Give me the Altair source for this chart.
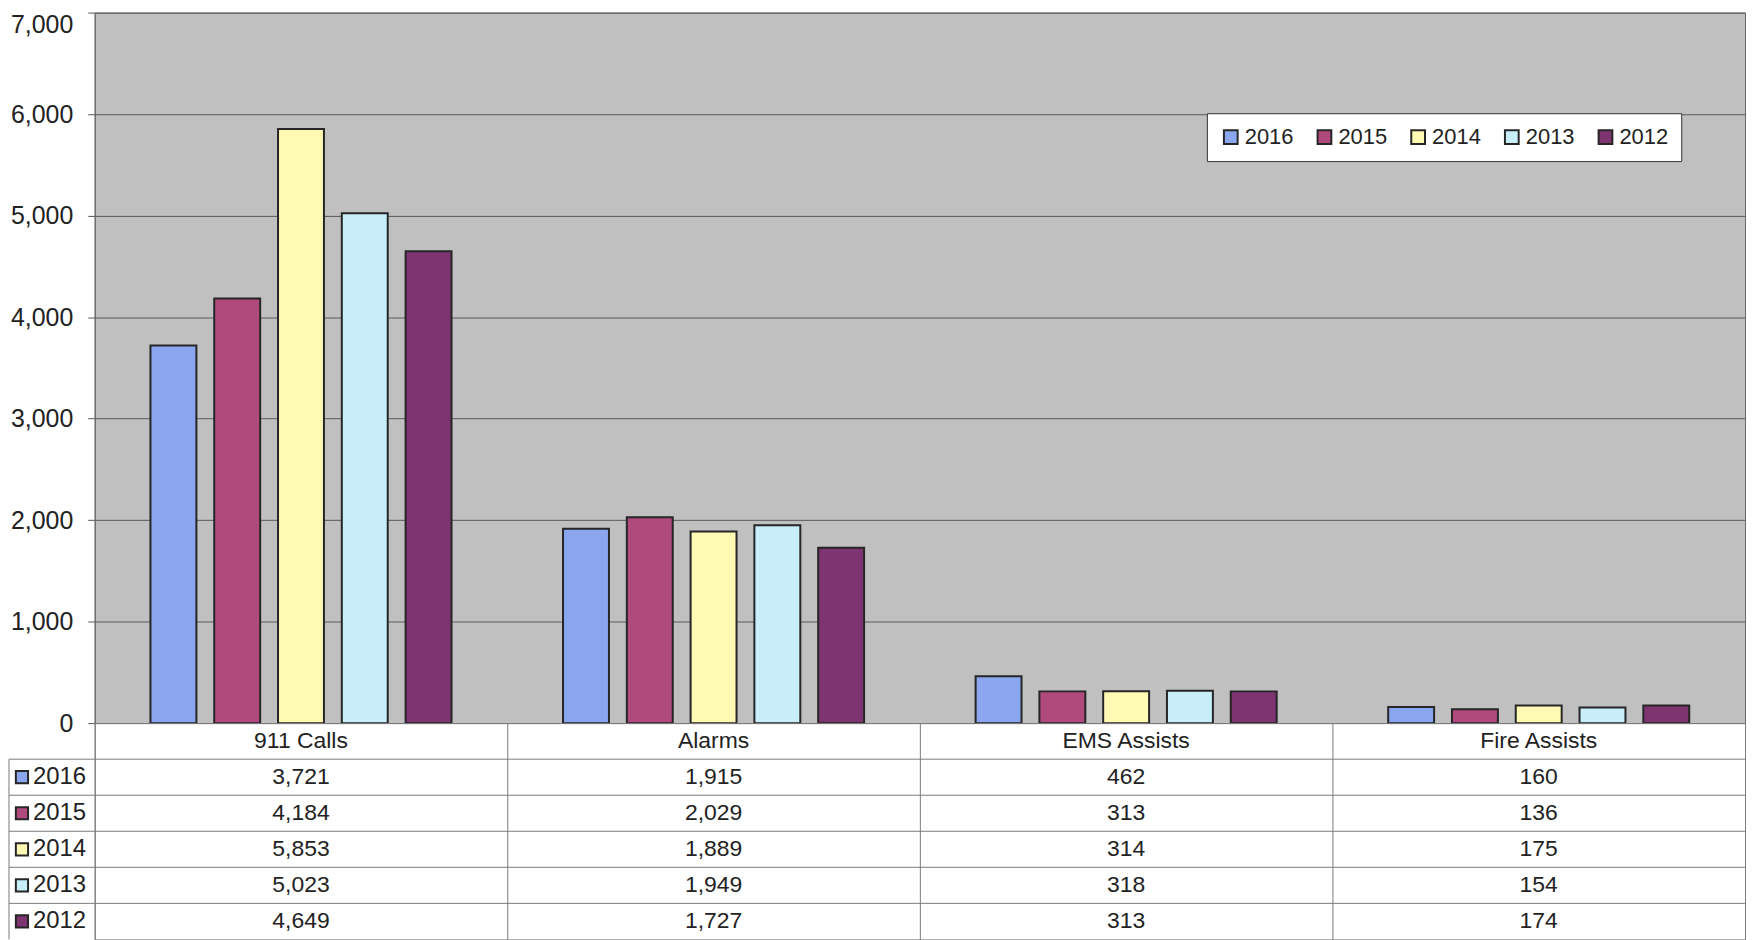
import altair as alt
import pandas as pd

categories = ["911 Calls", "Alarms", "EMS Assists", "Fire Assists"]
years = ["2016", "2015", "2014", "2013", "2012"]
v2016 = [3721, 1915, 462, 160]
v2015 = [4184, 2029, 313, 136]
v2014 = [5853, 1889, 314, 175]
v2013 = [5023, 1949, 318, 154]
v2012 = [4649, 1727, 313, 174]
colors = ["#8aa6ee", "#b04a7c", "#fff9b4", "#c8eefa", "#7e3470"]
y_ticks = [0, 1000, 2000, 3000, 4000, 5000, 6000, 7000]

series = {"2016": v2016, "2015": v2015, "2014": v2014, "2013": v2013, "2012": v2012}

rows_long = []
for yr in years:
    for c, v in zip(categories, series[yr]):
        rows_long.append({"cat": c, "year": yr, "value": v})
df_long = pd.DataFrame(rows_long)

row_domain = ["hdr"] + years
tbl = [{"cat": c, "row": "hdr", "txt": c} for c in categories]
for yr in years:
    for c, v in zip(categories, series[yr]):
        tbl.append({"cat": c, "row": yr, "txt": f"{v:,}"})
df_tbl = pd.DataFrame(tbl)
df_years = pd.DataFrame({"row": years, "year": years})

W = 1656
H = 713
TH = 217
FONT = "Liberation Sans"

color_scale = alt.Scale(domain=years, range=colors)

bars = alt.Chart(df_long).mark_bar(stroke="#262626", strokeWidth=2).encode(
    x=alt.X("cat:N", sort=categories,
            scale=alt.Scale(domain=categories, paddingInner=0.227, paddingOuter=0.1135),
            axis=None),
    xOffset=alt.XOffset("year:N", sort=years,
                        scale=alt.Scale(domain=years, paddingInner=0.28, paddingOuter=0.14)),
    y=alt.Y("value:Q", scale=alt.Scale(domain=[0, 7000], nice=False),
            axis=alt.Axis(values=y_ticks, format=",.0f", title=None, grid=True,
                          gridColor="#5a5a5a", gridWidth=1, tickColor="#555",
                          tickSize=7, labelPadding=15, labelFontSize=25,
                          labelColor="#222", domainColor="#666", labelFont=FONT,
                          labelBaseline={"condition": {"test": "datum.value == 7000", "value": "top"},
                                         "value": "middle"})),
    color=alt.Color("year:N", sort=years, scale=color_scale,
                    legend=alt.Legend(title=None, orient="none", legendX=1116, legendY=101,
                                      direction="horizontal", fillColor="white",
                                      strokeColor="#333", padding=13,
                                      symbolType="square", symbolSize=190,
                                      symbolStrokeColor="#262626", symbolStrokeWidth=2,
                                      labelFontSize=22, labelFont=FONT, labelColor="#222",
                                      labelOffset=3, columnPadding=20)),
).properties(width=W, height=H,
             view=alt.ViewBackground(fill="#c0c0c0", stroke="#666"))

xt = alt.X("cat:N", sort=categories,
           scale=alt.Scale(domain=categories, paddingInner=0, paddingOuter=0),
           axis=alt.Axis(tickBand="extent", grid=True, labels=False, ticks=False,
                         domain=False, title=None, gridColor="#7a7a7a", orient="top"))
yt = alt.Y("row:N", scale=alt.Scale(domain=row_domain, paddingInner=0, paddingOuter=0), axis=None)

text_layer = alt.Chart(df_tbl).mark_text(fontSize=23, font=FONT, color="#222").encode(
    x=xt, y=yt, text="txt:N")

row_lines = alt.Chart(df_years).mark_rule(color="#7a7a7a", strokeWidth=1).encode(
    y=alt.Y("row:N", bandPosition=0, scale=alt.Scale(domain=row_domain, paddingInner=0, paddingOuter=0), axis=None),
    x=alt.value(-86), x2=alt.value(W))

left_border = alt.Chart(df_years).transform_filter("datum.row == '2016'").mark_rule(
    color="#7a7a7a", strokeWidth=1).encode(
    y=alt.Y("row:N", bandPosition=0, scale=alt.Scale(domain=row_domain, paddingInner=0, paddingOuter=0), axis=None),
    y2=alt.value(TH), x=alt.value(-86))

squares = alt.Chart(df_years).mark_point(shape="square", filled=True, size=150, opacity=1,
                                         stroke="#262626", strokeWidth=2).encode(
    x=alt.value(-73), y=yt,
    color=alt.Color("year:N", sort=years, scale=color_scale, legend=None))

year_text = alt.Chart(df_years).mark_text(align="left", fontSize=24, font=FONT, color="#222").encode(
    x=alt.value(-62), y=yt, text="row:N")

table = alt.layer(row_lines, left_border, text_layer, squares, year_text).properties(
    width=W, height=TH, view=alt.ViewBackground(fill="white", stroke="#7a7a7a"))

chart = alt.vconcat(bars, table, spacing=0, bounds="flush").resolve_scale(
    x="independent", y="independent").resolve_legend(color="independent").properties(
    padding={"left": 0, "top": 2, "right": 0, "bottom": 0}, background="white"
).configure(font=FONT)

chart.save("out.html", embed_options={"renderer": "svg", "actions": False})
